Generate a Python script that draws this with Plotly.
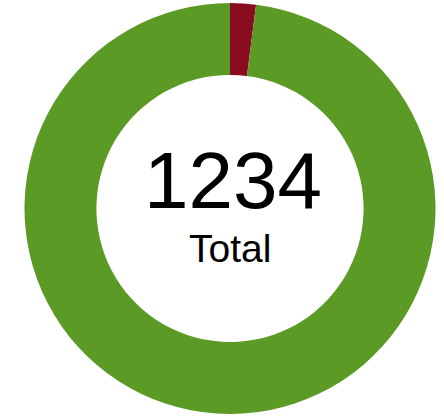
import plotly.graph_objects as go

labels = ["Failed", "Passed"]
values = [25, 1209]
colors = ["#8a0c1f", "#5c9a26"]
total_text = "1234"
sub_text = "Total"

W, H = 444, 420
ml, mr, mt, mb = 16, 0, 3, 6

def px_to_paper(xp, yp):
    return (xp - ml) / (W - ml - mr), (H - mb - yp) / (H - mt - mb)

fig = go.Figure(go.Pie(
    labels=labels, values=values, hole=0.65,
    marker=dict(colors=colors, line=dict(width=0)),
    sort=False, direction="clockwise", rotation=0,
    textinfo="none", hoverinfo="label+value", showlegend=False,
))

x1, y1 = px_to_paper(232.5, 180.5)
x2, y2 = px_to_paper(230, 248)
fig.add_annotation(x=x1, y=y1, xref="paper", yref="paper", text=total_text,
                   showarrow=False, xanchor="center", yanchor="middle",
                   font=dict(family="Liberation Sans, Arial", size=80, color="#000000"))
fig.add_annotation(x=x2, y=y2, xref="paper", yref="paper", text=sub_text,
                   showarrow=False, xanchor="center", yanchor="middle",
                   font=dict(family="Liberation Sans, Arial", size=39, color="#000000"))

fig.update_layout(width=W, height=H, margin=dict(l=ml, r=mr, t=mt, b=mb),
                  paper_bgcolor="white", plot_bgcolor="white")
fig.write_html("out.html", config={"displayModeBar": False},
               post_script="document.body.style.margin='0';document.body.style.overflow='hidden';")
